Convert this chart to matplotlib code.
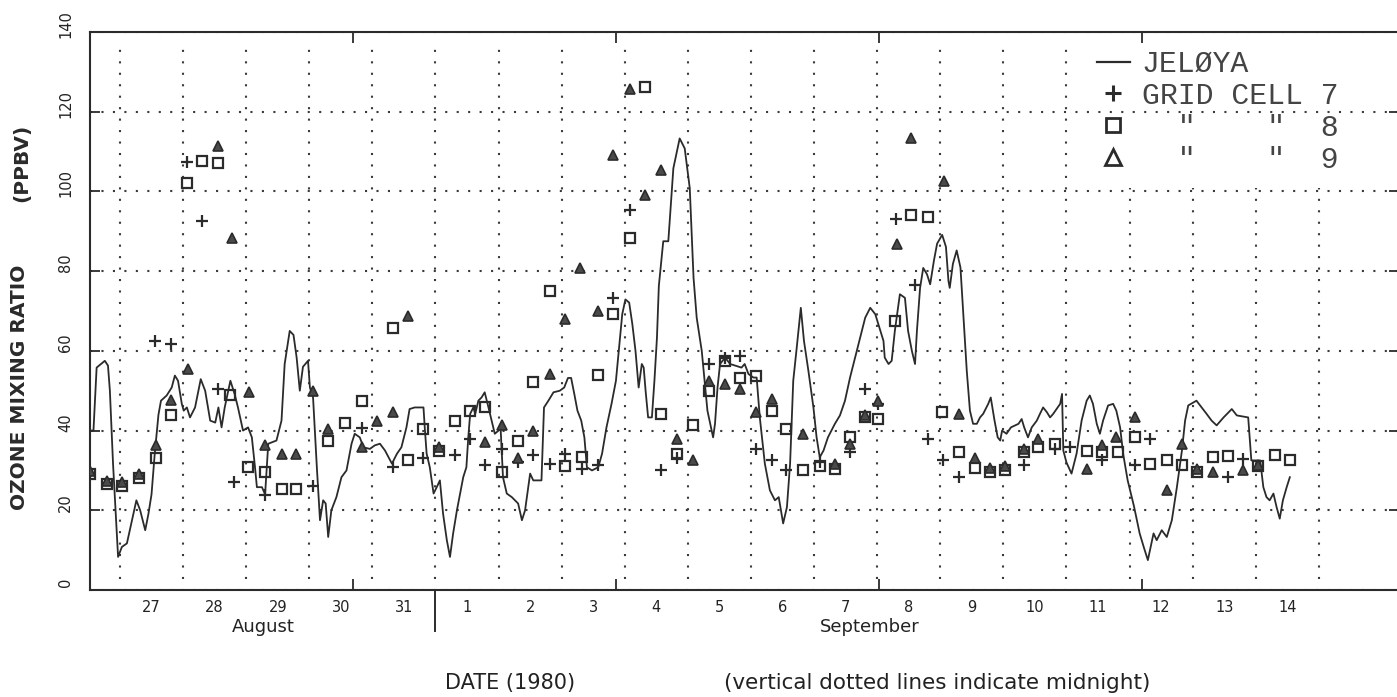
import matplotlib
matplotlib.use("Agg")
import matplotlib.pyplot as plt
import matplotlib.transforms as mtransforms
from matplotlib.lines import Line2D
from matplotlib.patches import Rectangle

# ---------------- data (x = days after 27 Aug 1980 00:00) ----------------
jel_t = [-0.49, -0.42, -0.37, -0.24, -0.19, -0.16, -0.11, -0.03, 0.03, 0.11, 0.19, 0.26,
         0.32, 0.40, 0.45, 0.50, 0.55, 0.61, 0.65, 0.74, 0.82, 0.87, 0.92, 0.98, 1.01,
         1.06, 1.11, 1.19, 1.28, 1.35, 1.43, 1.51, 1.56, 1.61, 1.66, 1.75, 1.82, 1.87,
         1.95, 2.03, 2.09, 2.14, 2.17, 2.25, 2.30, 2.35, 2.48, 2.56, 2.61, 2.69, 2.75,
         2.80, 2.85, 2.90, 2.98, 3.01, 3.06, 3.12, 3.17, 3.22, 3.26, 3.30, 3.35, 3.43,
         3.51, 3.59, 3.67, 3.72, 3.80, 3.86, 3.96, 4.04, 4.12, 4.20, 4.31, 4.39, 4.46,
         4.54, 4.59, 4.67, 4.81, 4.83, 4.86, 4.91, 4.97, 5.02, 5.07, 5.12, 5.18, 5.23,
         5.28, 5.34, 5.39, 5.44, 5.49, 5.52, 5.55, 5.60, 5.63, 5.68, 5.73, 5.78, 5.84,
         5.89, 5.94, 6.00, 6.03, 6.05, 6.07, 6.13, 6.21, 6.31, 6.37, 6.42, 6.50, 6.55,
         6.68, 6.72, 6.79, 6.87, 6.97, 7.04, 7.10, 7.15, 7.20, 7.25, 7.31, 7.36, 7.40,
         7.48, 7.58, 7.64, 7.71, 7.79, 7.86, 7.91, 7.96, 8.01, 8.07, 8.12, 8.17, 8.22,
         8.27, 8.30, 8.33, 8.37, 8.43, 8.47, 8.51, 8.54, 8.61, 8.69, 8.77, 8.87, 8.95,
         9.03, 9.09, 9.14, 9.22, 9.31, 9.40, 9.43, 9.47, 9.51, 9.59, 9.67, 9.85, 9.90,
         9.96, 10.04, 10.09, 10.14, 10.22, 10.30, 10.38, 10.44, 10.51, 10.57, 10.62,
         10.67, 10.72, 10.79, 10.84, 10.91, 10.99, 11.04, 11.09, 11.15, 11.22, 11.33,
         11.41, 11.49, 11.57, 11.65, 11.73, 11.81, 11.89, 11.97, 12.10, 12.12, 12.18,
         12.23, 12.28, 12.36, 12.44, 12.49, 12.55, 12.60, 12.63, 12.68, 12.73, 12.79,
         12.84, 12.90, 12.95, 13.03, 13.09, 13.13, 13.15, 13.20, 13.26, 13.32, 13.36,
         13.42, 13.47, 13.52, 13.58, 13.63, 13.68, 13.76, 13.80, 13.86, 13.91, 13.95,
         13.98, 14.05, 14.12, 14.24, 14.29, 14.33, 14.39, 14.45, 14.53, 14.58, 14.63,
         14.69, 14.74, 14.79, 14.90, 14.93, 14.95, 15.00, 15.08, 15.16, 15.24, 15.32,
         15.37, 15.42, 15.48, 15.53, 15.58, 15.66, 15.74, 15.79, 15.85, 15.90, 15.97,
         16.07, 16.16, 16.23, 16.29, 16.38, 16.43, 16.51, 16.59, 16.67, 16.75, 16.83,
         16.88, 16.93, 17.06, 17.22, 17.30, 17.38, 17.49, 17.62, 17.70, 17.88, 17.93,
         18.07, 18.12, 18.17, 18.22, 18.28, 18.33, 18.38, 18.43, 18.49, 18.54]
jel_v = [40.0, 40.0, 55.8, 57.5, 56.3, 50.0, 31.7, 8.3, 10.8, 11.7, 17.5, 22.5,
         20.0, 15.0, 19.0, 24.0, 34.0, 44.0, 47.5, 48.8, 50.8, 53.8, 52.5, 46.7, 45.0,
         45.8, 43.3, 45.8, 52.9, 50.0, 42.5, 42.0, 45.8, 40.8, 45.8, 52.5, 49.0, 45.8,
         40.0, 40.8, 38.3, 30.8, 25.8, 25.8, 24.0, 36.7, 37.5, 42.5, 56.7, 65.0, 64.0,
         58.3, 50.0, 56.0, 57.5, 50.8, 48.3, 30.8, 17.5, 22.5, 21.7, 13.3, 20.0, 23.3,
         28.3, 30.0, 36.7, 39.2, 38.3, 35.8, 35.4, 36.3, 36.7, 35.0, 31.7, 34.2, 35.8,
         40.8, 45.4, 45.8, 45.8, 40.8, 34.2, 30.8, 24.2, 25.8, 27.5, 19.2, 12.5, 8.3,
         14.2, 20.0, 24.2, 28.3, 30.8, 38.3, 44.2, 45.8, 44.2, 47.5, 48.3, 49.6, 45.8,
         42.5, 39.2, 40.0, 41.3, 35.0, 28.3, 24.2, 23.3, 21.7, 17.5, 20.0, 29.2, 27.5,
         27.5, 45.8, 47.5, 49.6, 50.0, 50.8, 53.2, 53.2, 49.2, 45.0, 42.5, 38.3, 30.8,
         30.0, 30.8, 34.2, 40.8, 46.7, 52.5, 60.8, 69.2, 72.9, 72.1, 66.7, 60.0, 50.8,
         56.7, 55.8, 50.0, 43.3, 43.3, 52.5, 63.3, 76.3, 87.5, 87.5, 105.8, 113.3, 110.8,
         100.8, 78.3, 68.3, 60.0, 45.0, 38.3, 41.7, 50.8, 56.7, 58.3, 56.7, 55.8, 56.7,
         54.2, 53.3, 53.3, 43.3, 31.7, 25.0, 22.5, 23.3, 16.7, 20.8, 31.7,
         52.5, 60.0, 70.8, 62.5, 55.0, 45.8, 38.3, 33.3, 35.0, 38.3, 41.7,
         43.8, 47.5, 53.3, 58.3, 63.3, 68.3, 70.8, 69.2, 62.5, 58.3, 56.7,
         57.5, 65.0, 74.2, 73.3, 65.0, 60.0, 56.7, 65.0, 75.8, 80.8, 79.2,
         76.7, 82.7, 86.9, 89.1, 86.1, 77.5, 75.8, 81.8, 85.2, 80.9, 70.7,
         55.0, 45.0, 41.7, 41.7, 43.3, 44.2, 46.7, 48.3, 42.5, 38.3, 37.5,
         40.0, 39.2, 40.8, 41.7, 42.9, 40.8, 38.3, 40.8, 42.5, 44.2, 45.8,
         44.6, 43.3, 44.2, 46.7, 49.2, 35.0, 32.0, 29.2, 34.2, 42.5, 47.5,
         48.8, 46.7, 41.7, 39.2, 42.5, 46.3, 46.7, 45.0, 40.8, 34.0, 27.5,
         21.0, 14.2, 10.5, 7.5, 14.2, 12.5, 15.0, 13.3, 17.5, 25.8, 35.0,
         42.5, 46.3, 47.5, 44.2, 42.5, 41.3, 43.3, 45.4, 43.8, 43.3, 32.5,
         32.5, 25.8, 23.3, 22.5, 24.2, 20.8, 17.9, 22.5, 25.8, 28.3]

cell7_t = [-0.48, 0.55, 0.81, 1.06, 1.30, 1.55, 1.80, 2.30, 3.06, 3.83, 4.32, 4.80,
           5.31, 5.55, 5.79, 6.05, 6.31, 6.55, 6.81, 7.05, 7.32, 7.58, 7.82, 8.08,
           8.58, 8.82, 9.33, 9.59, 9.83, 10.08, 10.33, 10.56, 11.09, 11.57, 11.81,
           12.01, 12.30, 12.60, 12.81, 13.05, 13.29, 14.32, 14.82, 15.05, 15.56,
           16.08, 16.32, 17.56, 17.80]
cell7_v = [29.0, 62.5, 61.7, 107.5, 92.5, 50.5, 27.1, 23.8, 26.2, 40.6, 30.8, 33.0,
           33.8, 38.0, 31.3, 35.4, 32.1, 33.8, 31.7, 34.0, 30.4, 31.3, 73.3, 95.4,
           30.0, 33.0, 56.7, 58.3, 58.8, 35.4, 32.5, 30.0, 32.1, 34.6, 50.4,
           46.7, 93.0, 76.5, 37.9, 32.5, 28.3, 31.3, 35.5, 36.0, 32.5,
           31.3, 37.9, 28.3, 32.9]

cell8_t = [-0.48, -0.21, 0.03, 0.30, 0.57, 0.81, 1.06, 1.30, 1.55, 1.74, 2.03, 2.30,
           2.56, 2.79, 3.30, 3.57, 3.83, 4.32, 4.56, 4.80, 5.05, 5.31, 5.55, 5.79,
           6.05, 6.31, 6.55, 6.81, 7.05, 7.32, 7.58, 7.82, 8.08, 8.32, 8.58, 8.82,
           9.08, 9.33, 9.59, 9.83, 10.08, 10.33, 10.56, 10.83, 11.09, 11.33, 11.57,
           11.81, 12.01, 12.28, 12.54, 12.81, 13.02, 13.29, 13.55, 13.79, 14.03,
           14.32, 14.55, 14.82, 15.32, 15.56, 15.82, 16.08, 16.32, 16.59, 16.83,
           17.07, 17.33, 17.56, 18.04, 18.31, 18.54]
cell8_v = [29.0, 26.7, 26.0, 28.0, 33.0, 43.9, 102.1, 107.7, 107.1, 49.0, 30.8, 29.6,
           25.4, 25.4, 37.5, 42.0, 47.5, 65.8, 32.5, 40.4, 35.0, 42.3, 45.0, 46.0,
           29.6, 37.3, 52.1, 75.0, 31.0, 33.3, 54.0, 69.2, 88.3, 126.3, 44.2, 34.0,
           41.3, 50.0, 57.5, 53.3, 53.8, 45.0, 40.4, 30.0, 31.0, 30.4, 38.3,
           43.3, 42.9, 67.5, 94.0, 93.5, 44.6, 34.6, 30.5, 29.6, 30.0,
           34.6, 35.8, 36.7, 35.0, 34.6, 34.6, 38.3, 31.7, 32.5, 31.3,
           29.6, 33.3, 33.5, 31.0, 33.8, 32.5]

cell9_t = [-0.48, -0.21, 0.03, 0.30, 0.57, 0.81, 1.08, 1.55, 1.77, 2.05, 2.30, 2.56,
           2.79, 3.06, 3.30, 3.83, 4.07, 4.32, 4.56, 5.05, 5.79, 6.05, 6.31, 6.55,
           6.81, 7.05, 7.29, 7.58, 7.82, 8.08, 8.32, 8.58, 8.82, 9.08, 9.33, 9.59,
           9.83, 10.08, 10.33, 10.83, 11.33, 11.57, 11.81, 12.01, 12.31, 12.54,
           13.06, 13.29, 13.55, 13.79, 14.03, 14.32, 14.55, 15.32, 15.56, 15.79,
           16.08, 16.59, 16.83, 17.07, 17.33, 17.80, 18.04]
cell9_v = [29.8, 27.3, 27.0, 29.0, 36.5, 47.7, 55.5, 111.3, 88.3, 49.6, 36.3, 34.2,
           34.2, 50.0, 40.5, 35.8, 42.3, 44.6, 68.8, 36.0, 37.1, 41.5, 33.0, 40.0,
           54.2, 67.9, 80.8, 70.0, 109.2, 125.8, 99.2, 105.4, 37.9, 32.5, 52.5, 51.7,
           50.4, 44.6, 47.9, 39.2, 31.5, 36.7, 44.0, 47.5, 86.7, 113.5,
           102.7, 44.2, 33.0, 30.5, 31.0, 35.5, 38.0, 30.4, 36.5, 38.3,
           43.3, 25.0, 36.7, 30.3, 29.6, 30.0, 31.3]

midnights = list(range(0, 20))
day_label_pos = [0.5, 1.5, 2.5, 3.5, 4.5, 5.5, 6.5, 7.5, 8.5, 9.5, 10.5, 11.5,
                 12.5, 13.5, 14.5, 15.5, 16.5, 17.5, 18.5]
day_labels = ["27", "28", "29", "30", "31", "1", "2", "3", "4", "5", "6", "7",
              "8", "9", "10", "11", "12", "13", "14"]
hour_ticks = [3.69, 7.86, 12.03, 16.19]   # every 100 h from the start of the record
y_ticks = [0, 20, 40, 60, 80, 100, 120, 140]
legend_labels = ["JEL\u00d8YA", "GRID CELL 7", '  "    "  8', '  "    "  9']

# ---------------- figure ----------------
W, H = 1397, 697
ink = "#2b2b2b"
fig = plt.figure(figsize=(W / 100, H / 100), dpi=100, facecolor="white")
ax = fig.add_axes([90 / W, 107 / H, 1309 / W, 558 / H])
ax.set_xlim(-0.475, 20.27)
ax.set_ylim(0, 139.5)

dots = (0, (1, 4.5))
ax.vlines(midnights, 0.02, 0.98, transform=ax.get_xaxis_transform(),
          colors="#3a3a3a", linestyles=dots, linewidth=1.5, zorder=1)
ax.set_yticks(y_ticks, labels=[str(v) for v in y_ticks])
ax.grid(axis="y", color="#3a3a3a", linestyle=dots, linewidth=1.5, zorder=1)

# blank area behind the key (covers the grid there, as in the original)
ax.add_patch(Rectangle((0.749, 0.72), 0.26, 0.279, transform=ax.transAxes,
                       facecolor="white", edgecolor="none", zorder=1.5))

ax.plot(jel_t, jel_v, color=ink, lw=1.3, zorder=3)
ax.plot(cell7_t, cell7_v, ls="none", marker="+", ms=9, mew=1.6, color=ink, zorder=4)
ax.plot(cell8_t, cell8_v, ls="none", marker="s", ms=6.5, mfc="none", mew=1.6,
        mec=ink, zorder=4)
ax.plot(cell9_t, cell9_v, ls="none", marker="^", ms=6.5, mfc="#4a4a4a", mew=1.2,
        mec=ink, zorder=4)

for s in ax.spines.values():
    s.set_color(ink)
    s.set_linewidth(1.5)

# x axis: 100-hour marks (major) and day labels at noon (minor)
ax.set_xticks(hour_ticks, labels=[""] * len(hour_ticks))
ax.set_xticks(day_label_pos, labels=day_labels, minor=True)
ax.tick_params(axis="x", which="major", direction="in", length=8, width=1.3,
               top=True, bottom=True, color=ink)
ax.tick_params(axis="x", which="minor", length=0, pad=7, labelsize=10.5,
               labelcolor="#222222")
ax.tick_params(axis="y", which="major", direction="in", length=7, width=1.3,
               left=True, right=True, color=ink, pad=12, labelsize=10.5,
               labelcolor="#222222")
shift = mtransforms.ScaledTranslation(0, 0.08, fig.dpi_scale_trans)
for lab in ax.get_yticklabels():
    lab.set_rotation(90)
    lab.set_va("center")
    lab.set_transform(lab.get_transform() + shift)

# separator between August and September below the axis
ax.plot([5.0, 5.0], [0, -0.073], transform=ax.get_xaxis_transform(),
        color=ink, lw=1.4, clip_on=False)

fig.text(263 / W, 1 - 627 / H, "August", ha="center", va="center",
         fontsize=13, color="#222222")
fig.text(870 / W, 1 - 627 / H, "September", ha="center", va="center",
         fontsize=13, color="#222222")
fig.text(510 / W, 1 - 683 / H, "DATE (1980)", ha="center", va="center",
         fontsize=15, color="#222222")
fig.text(937 / W, 1 - 683 / H, "(vertical dotted lines indicate midnight)",
         ha="center", va="center", fontsize=15.5, color="#222222")
fig.text(20 / W, 1 - 387 / H, "OZONE MIXING RATIO", rotation=90, ha="center",
         va="center", fontsize=14.5, fontweight="bold", color="#2a2a2a")
fig.text(22 / W, 1 - 163 / H, "(PPBV)", rotation=90, ha="center",
         va="center", fontsize=14.5, fontweight="bold", color="#2a2a2a")

handles = [
    Line2D([], [], color=ink, lw=1.6),
    Line2D([], [], ls="none", marker="+", ms=11, mew=2.2, color=ink),
    Line2D([], [], ls="none", marker="s", ms=10, mfc="none", mew=2.0, mec=ink),
    Line2D([], [], ls="none", marker="^", ms=11, mfc="none", mew=2.0, mec=ink),
]
leg = fig.legend(handles, legend_labels, loc="upper left",
                 bbox_to_anchor=(1097 / W, 1 - 50 / H),
                 prop={"family": "Liberation Mono", "size": 21.5},
                 frameon=False, handlelength=1.1, handletextpad=0.4,
                 labelspacing=0.13, borderpad=0, borderaxespad=0)
for t in leg.get_texts():
    t.set_color("#444444")

fig.savefig("out.png", dpi=100, facecolor="white")
